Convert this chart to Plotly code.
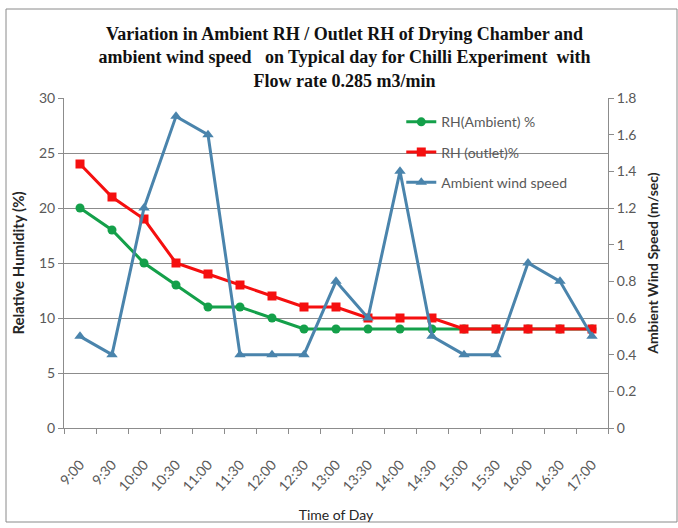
import plotly.graph_objects as go

times = ["9:00", "9:30", "10:00", "10:30", "11:00", "11:30", "12:00", "12:30",
         "13:00", "13:30", "14:00", "14:30", "15:00", "15:30", "16:00", "16:30", "17:00"]
rh_ambient = [20, 18, 15, 13, 11, 11, 10, 9, 9, 9, 9, 9, 9, 9, 9, 9, 9]
rh_outlet = [24, 21, 19, 15, 14, 13, 12, 11, 11, 10, 10, 10, 9, 9, 9, 9, 9]
wind_speed = [0.5, 0.4, 1.2, 1.7, 1.6, 0.4, 0.4, 0.4, 0.8, 0.6, 1.4, 0.5, 0.4, 0.4, 0.9, 0.8, 0.5]

GREEN = "#14A04A"
RED = "#F50F0F"
BLUE = "#4A84AC"
GRID = "#8C8C8C"
TXT = "#595959"
FONT = "Lato, Open Sans, sans-serif"

fig = go.Figure()
fig.add_trace(go.Scatter(
    x=times, y=rh_ambient, name="RH(Ambient) %", mode="lines+markers",
    line=dict(color=GREEN, width=3), marker=dict(symbol="circle", size=9, color=GREEN),
    legendgroup="a"))
fig.add_trace(go.Scatter(
    x=times, y=rh_outlet, name="RH (outlet)%", mode="lines+markers",
    line=dict(color=RED, width=3), marker=dict(symbol="square", size=9, color=RED),
    legendgroup="b"))
fig.add_trace(go.Scatter(
    x=times, y=wind_speed, name="Ambient wind speed", mode="lines+markers",
    line=dict(color=BLUE, width=3), marker=dict(symbol="triangle-up", size=10, color=BLUE),
    yaxis="y2", legendgroup="c"))

fig.update_layout(
    width=678, height=528,
    margin=dict(l=64, r=70, t=98, b=100),
    paper_bgcolor="white", plot_bgcolor="white",
    font=dict(family=FONT, size=12, color=TXT),
    title=dict(
        text="Variation in Ambient RH / Outlet RH of Drying Chamber and<br>"
             "ambient wind speed   on Typical day for Chilli Experiment  with<br>"
             "Flow rate 0.285 m3/min",
        x=0.508, xanchor="center", xref="container",
        y=1 - 40 / 528, yanchor="top", yref="container",
        font=dict(family="Liberation Serif, serif", size=18, color="#111111", weight="bold"),
    ),
    xaxis=dict(
        type="category", range=[-0.5, 16.5], tickangle=-48, tickson="boundaries",
        ticks="outside", ticklen=5, tickcolor=GRID, ticklabelstandoff=22,
        showline=True, linecolor=GRID, linewidth=1, automargin=False,
        showgrid=False, tickfont=dict(size=14, color=TXT),
        title=dict(text="Time of Day", font=dict(size=14, color="#262626"), standoff=16),
    ),
    yaxis=dict(
        range=[0, 30], dtick=5, showgrid=True, gridcolor=GRID, gridwidth=1,
        showline=True, linecolor=GRID, ticks="outside", ticklen=5, tickcolor=GRID,
        zeroline=False, tickfont=dict(size=14, color=TXT), automargin=False,
        title=dict(text="<b>Relative Humidity (%)</b>", font=dict(size=15, color="#262626"), standoff=10),
    ),
    yaxis2=dict(
        range=[0, 1.8], dtick=0.2, overlaying="y", side="right", showgrid=False,
        showline=True, linecolor=GRID, ticks="outside", ticklen=5, tickcolor=GRID,
        zeroline=False, tickfont=dict(size=14, color=TXT), automargin=False,
        title=dict(text="<b>Ambient Wind Speed (m/sec)</b>", font=dict(size=14, color="#262626"), standoff=12),
    ),
    legend=dict(
        x=0.62, y=0.975, xanchor="left", yanchor="top",
        bgcolor="rgba(0,0,0,0)", font=dict(size=14, color=TXT),
        traceorder="grouped", tracegroupgap=9,
    ),
    showlegend=True,
)

fig.add_shape(type="rect", xref="paper", yref="paper",
              x0=(6 - 64) / 544, x1=(677 - 64) / 544,
              y0=(428 - 522) / 330, y1=(428 - 9) / 330,
              line=dict(color="#8a8a8a", width=1), fillcolor="rgba(0,0,0,0)", layer="below")

fig.write_html("out.html")
